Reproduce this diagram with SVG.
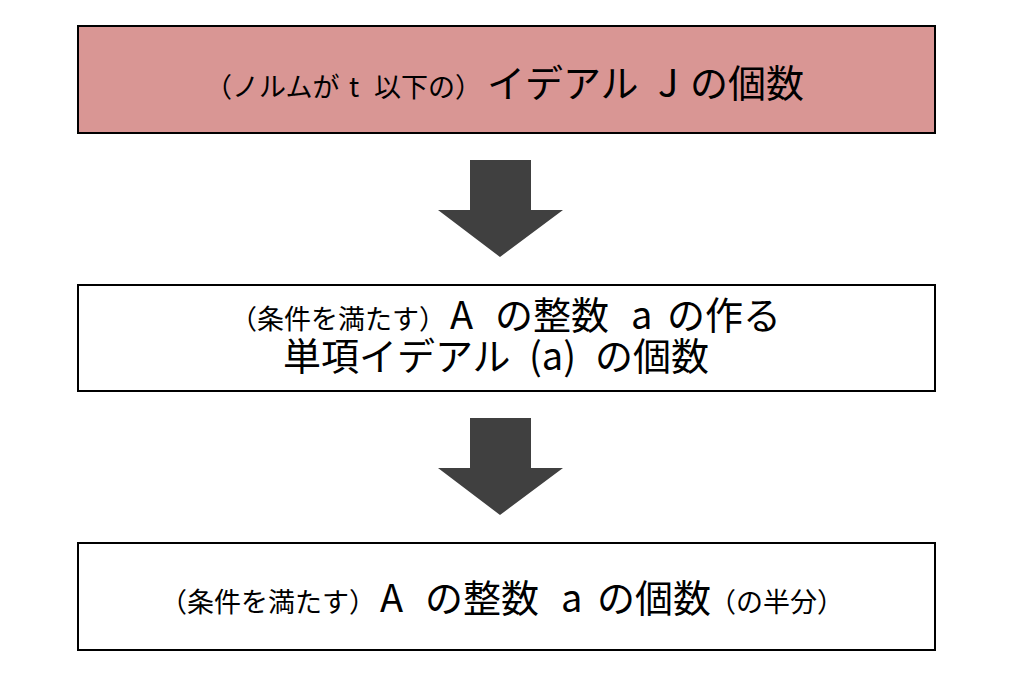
<svg xmlns="http://www.w3.org/2000/svg" width="1024" height="683" viewBox="0 0 1024 683">
<style>
.box{stroke:#000;stroke-width:2}
.t{font-family:"Noto Sans CJK JP","Noto Sans",sans-serif;fill:#000}
.s{font-size:27px}
.l{font-size:38px}
.arrow{fill:#404040}
</style>
<rect width="1024" height="683" fill="#fff"/>
<g id="node1">
<rect class="box" x="78" y="26" width="857" height="107" fill="#d99694"/>
<text class="t" y="97"><tspan class="s" x="205">（ノルムが</tspan><tspan class="s" x="349">t</tspan><tspan class="s" x="374">以下の）</tspan><tspan class="l" x="487">イデアル</tspan><tspan class="l" x="658">J</tspan><tspan class="l" x="690">の個数</tspan></text>
</g>
<g id="node2">
<rect class="box" x="78" y="285" width="857" height="106" fill="#fff"/>
<text class="t" y="329"><tspan class="s" x="230">（条件を満たす）</tspan><tspan class="l" x="450">A</tspan><tspan class="l" x="495">の整数</tspan><tspan class="l" x="631">a</tspan><tspan class="l" x="667">の作る</tspan></text>
<text class="t l" y="370"><tspan x="283">単項イデアル</tspan><tspan x="529">(a)</tspan><tspan x="595">の個数</tspan></text>
</g>
<g id="node3">
<rect class="box" x="78" y="543" width="857" height="107" fill="#fff"/>
<text class="t" y="612"><tspan class="s" x="160">（条件を満たす）</tspan><tspan class="l" x="380">A</tspan><tspan class="l" x="425">の整数</tspan><tspan class="l" x="561">a</tspan><tspan class="l" x="597">の個数</tspan><tspan class="s" x="709">（の半分）</tspan></text>
</g>
<g id="connectors">
<polygon class="arrow" points="470,160 531,160 531,210 563,210 500,257 438,210 470,210"/>
<polygon class="arrow" points="470,418 531,418 531,468 563,468 500,515 438,468 470,468"/>
</g>
</svg>
